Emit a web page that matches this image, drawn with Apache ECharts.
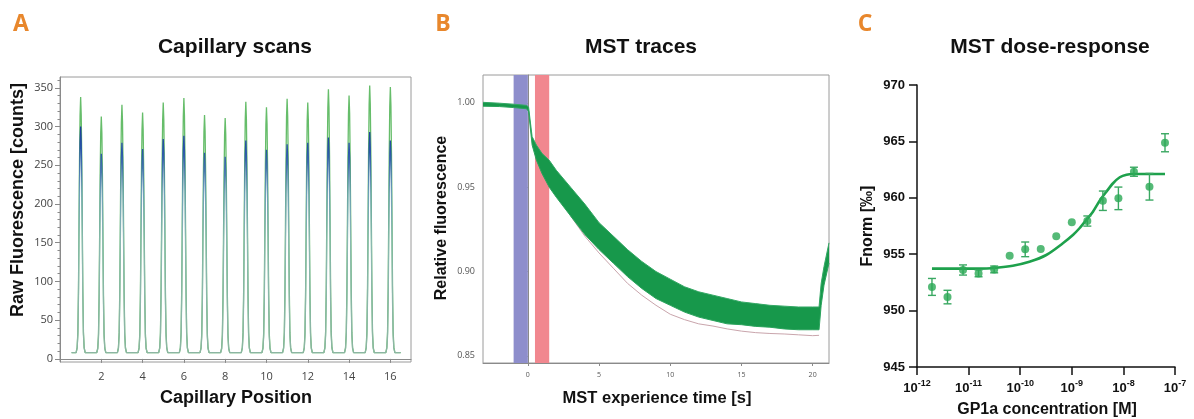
<!DOCTYPE html>
<html>
<head>
<meta charset="utf-8">
<script src="https://cdn.jsdelivr.net/npm/echarts@6/dist/echarts.min.js"></script>
<style>
  html, body { margin: 0; padding: 0; background: #fff; }
  #chart { width: 1194px; height: 419px; }
</style>
</head>
<body>
<div id="chart"></div>
<script>
// ---- A: capillary scans ----
const capillaryPos = [1, 2, 3, 4, 5, 6, 7, 8, 9, 10, 11, 12, 13, 14, 15, 16];
const greenPeaks = [338, 313, 328, 318, 331, 337, 315, 311, 332, 325, 336, 331, 348, 340, 353, 351];
const bluePeaks = [300, 265, 279, 271, 284, 288, 266, 261, 282, 270, 277, 279, 286, 279, 293, 282];
const scanBaseline = 8;
const scanStart = 0.56;
const scanEnd = 16.5;
// peak outline: [offset from capillary centre, share of peak height]
const peakShape = [[-0.22, 0], [-0.17, 0.02], [-0.135, 0.08], [-0.105, 0.25], [-0.08, 0.5], [-0.055, 0.75],
  [-0.028, 0.93], [0, 1], [0.028, 0.93], [0.055, 0.75], [0.08, 0.5], [0.105, 0.25], [0.135, 0.08],
  [0.17, 0.02], [0.22, 0]];
const capTicks = [2, 4, 6, 8, 10, 12, 14, 16];
const countTicks = [0, 50, 100, 150, 200, 250, 300, 350];
const countMinorTicks = [0, 10, 20, 30, 40, 50, 60, 70, 80, 90, 100, 110, 120, 130, 140, 150, 160, 170, 180,
  190, 200, 210, 220, 230, 240, 250, 260, 270, 280, 290, 300, 310, 320, 330, 340, 350, 360];

// ---- B: MST traces ----
const traceTime = [-3.15, -2, -1, -0.1, 0.05, 0.3, 0.6, 1, 1.5, 2, 3, 4, 5, 6, 7, 8, 9, 10, 11, 12, 13, 14,
  15, 16, 17, 18, 19, 20, 20.45, 20.6, 20.8, 21.15];
const traceUpper = [1.0003, 0.9998, 0.9992, 0.9985, 0.9975, 0.980, 0.975, 0.970, 0.966, 0.960, 0.950, 0.940,
  0.929, 0.921, 0.913, 0.906, 0.900, 0.8955, 0.891, 0.888, 0.886, 0.884, 0.882, 0.881, 0.880, 0.8795, 0.879,
  0.879, 0.879, 0.893, 0.903, 0.917];
const traceLower = [0.998, 0.9978, 0.9972, 0.9965, 0.995, 0.975, 0.966, 0.958, 0.950, 0.944, 0.933, 0.922,
  0.913, 0.905, 0.897, 0.890, 0.884, 0.880, 0.876, 0.873, 0.871, 0.869, 0.8685, 0.8675, 0.867, 0.866, 0.8655,
  0.8655, 0.8655, 0.880, 0.892, 0.905];
const outlierTime = [3, 4, 5, 6, 7, 8, 9, 10, 11, 12, 13, 14, 15, 16, 17, 18, 19, 20, 20.45];
const outlierTrace = [0.933, 0.921, 0.911, 0.902, 0.893, 0.886, 0.880, 0.8747, 0.8715, 0.869, 0.8677,
  0.866, 0.8647, 0.8638, 0.8633, 0.863, 0.8625, 0.862, 0.8622];
const coldWindow = [-1, 0];
const hotWindow = [0.5, 1.5];
const timeTicks = [0, 5, 10, 15, 20];
const fluoTicks = [0.85, 0.90, 0.95, 1.00];

// ---- C: dose-response ----
const concentrations = [1.95e-12, 3.9e-12, 7.8e-12, 1.56e-11, 3.13e-11, 6.25e-11, 1.25e-10, 2.5e-10, 5e-10,
  1e-9, 2e-9, 4e-9, 8e-9, 1.6e-8, 3.2e-8, 6.4e-8];
const fnorm = [952.1, 951.2, 953.6, 953.3, 953.65, 954.87, 955.43, 955.46, 956.59, 957.83, 957.94, 959.74,
  959.95, 962.31, 960.98, 964.88];
const fnormErr = [0.75, 0.6, 0.45, 0.3, 0.3, 0, 0.65, 0, 0, 0, 0.45, 0.86, 1.0, 0.4, 1.18, 0.8];
const fitConc = [1.95e-12, 1.62e-11, 3.42e-11, 7.18e-11, 1.51e-10, 3.2e-10, 6.71e-10, 1.05e-9, 1.41e-9,
  1.91e-9, 2.57e-9, 3.47e-9, 4.68e-9, 6.31e-9, 8.51e-9, 1.15e-8, 1.55e-8, 6.4e-8];
const fitFnorm = [953.72, 953.72, 953.8, 953.98, 954.33, 954.93, 955.97, 956.7, 957.3, 958.03, 958.77, 959.74,
  960.54, 961.29, 961.82, 962.05, 962.11, 962.11];

const ARIAL = '"Liberation Sans", Arial, sans-serif';
const SOFT = '"Open Sans", "Noto Sans", sans-serif';

function scanTrace(heights) {
  const pts = [[scanStart, scanBaseline]];
  capillaryPos.forEach((p, i) => {
    peakShape.forEach(([dx, f]) => {
      pts.push([p + dx, scanBaseline + f * (heights[i] - scanBaseline)]);
    });
  });
  pts.push([scanEnd, scanBaseline]);
  return pts;
}

function label(text, x, y, font, rotate, fill) {
  return {
    type: 'text', x: x, y: y, rotation: rotate ? Math.PI / 2 : 0,
    style: {
      text: text, font: font, fill: fill || '#111',
      textAlign: 'center', textVerticalAlign: 'middle', align: 'center', verticalAlign: 'middle'
    }
  };
}

const chart = echarts.init(document.getElementById('chart'), null, { renderer: 'canvas' });

chart.setOption({
  animation: false,
  backgroundColor: '#fff',
  graphic: [
    label('A', 21, 24, 'bold 23px ' + SOFT, false, '#e8872c'),
    label('B', 443, 24, 'bold 23px ' + SOFT, false, '#e8872c'),
    label('C', 865, 24, 'bold 23px ' + SOFT, false, '#e8872c'),
    label('Capillary scans', 235, 47, 'bold 21px ' + ARIAL),
    label('MST traces', 641, 47, 'bold 21px ' + ARIAL),
    label('MST dose-response', 1050, 47, 'bold 21px ' + ARIAL),
    label('Capillary Position', 236, 398, 'bold 18px ' + ARIAL),
    label('Raw Fluorescence [counts]', 18, 200, 'bold 18px ' + ARIAL, true),
    label('MST experience time [s]', 657, 398, 'bold 16.5px ' + ARIAL),
    label('Relative fluorescence', 442, 218, 'bold 16px ' + ARIAL, true),
    label('GP1a concentration [M]', 1047, 410, 'bold 16px ' + ARIAL),
    label('Fnorm [‰]', 868, 226, 'bold 16px ' + ARIAL, true)
  ],
  grid: [
    { left: 60, top: 77, width: 351, height: 285, show: true, borderColor: '#9a9a9a', borderWidth: 1 },
    { left: 483, top: 75, width: 346, height: 288, show: true, borderColor: '#9a9a9a', borderWidth: 1 },
    { left: 917, top: 85, width: 258, height: 282 }
  ],
  xAxis: [
    {
      gridIndex: 0, type: 'value', min: 0, max: 17,
      axisLine: { lineStyle: { color: '#8a8a8a' } },
      axisTick: { customValues: capTicks, length: 4, lineStyle: { color: '#8a8a8a' } },
      axisLabel: { customValues: capTicks, margin: 9, color: '#444', fontSize: 11, fontFamily: SOFT },
      splitLine: { show: false }
    },
    {
      gridIndex: 1, type: 'value', min: -3.15, max: 21.15,
      axisLine: { lineStyle: { color: '#8a8a8a' } },
      axisTick: { customValues: timeTicks, length: 3, lineStyle: { color: '#8a8a8a' } },
      axisLabel: { customValues: timeTicks, margin: 8, color: '#555', fontSize: 7, fontFamily: SOFT },
      splitLine: { show: false }
    },
    {
      gridIndex: 2, type: 'log', logBase: 10, min: 1e-12, max: 1e-7,
      axisLine: { lineStyle: { color: '#111', width: 1.5 } },
      axisTick: { length: 8, lineStyle: { color: '#111', width: 1.5 } },
      minorTick: { show: false },
      splitLine: { show: false },
      axisLabel: {
        margin: 12,
        formatter: v => '{b|10}{s|' + Math.round(Math.log10(v)) + '}',
        rich: {
          b: { fontSize: 13, fontWeight: 'bold', fontFamily: ARIAL, color: '#111', lineHeight: 16, verticalAlign: 'bottom' },
          s: { fontSize: 9, fontWeight: 'bold', fontFamily: ARIAL, color: '#111', lineHeight: 16, verticalAlign: 'top' }
        }
      }
    }
  ],
  yAxis: [
    {
      gridIndex: 0, type: 'value', min: -4, max: 364,
      axisLine: { show: true, lineStyle: { color: '#8a8a8a' } },
      axisTick: { show: true, customValues: countTicks, length: 5, lineStyle: { color: '#8a8a8a' } },
      axisLabel: { customValues: countTicks, margin: 7, color: '#444', fontSize: 11, fontFamily: SOFT },
      splitLine: { show: false }
    },
    {
      gridIndex: 0, type: 'value', min: -4, max: 364, position: 'left',
      axisLine: { show: false },
      axisTick: { show: true, customValues: countMinorTicks, length: 2.5, lineStyle: { color: '#8a8a8a' } },
      axisLabel: { show: false },
      splitLine: { show: false }
    },
    {
      gridIndex: 1, type: 'value', min: 0.8458, max: 1.0165,
      axisLine: { show: true, lineStyle: { color: '#8a8a8a' } },
      axisTick: { show: true, customValues: fluoTicks, length: 4, lineStyle: { color: '#8a8a8a' } },
      axisLabel: {
        customValues: fluoTicks, margin: 8, color: '#555', fontSize: 9, fontFamily: SOFT,
        formatter: v => v.toFixed(2)
      },
      splitLine: { show: false }
    },
    {
      gridIndex: 2, type: 'value', min: 945, max: 970, interval: 5,
      axisLine: { show: true, lineStyle: { color: '#111', width: 1.5 } },
      axisTick: { show: true, length: 8, lineStyle: { color: '#111', width: 1.5 } },
      axisLabel: { margin: 12, color: '#111', fontSize: 13, fontWeight: 'bold', fontFamily: ARIAL },
      splitLine: { show: false }
    }
  ],
  series: [
    // A
    {
      type: 'line', xAxisIndex: 0, yAxisIndex: 0, data: scanTrace(greenPeaks),
      symbol: 'none', lineStyle: { color: '#66bd6a', width: 1.3 }, z: 2
    },
    {
      type: 'line', xAxisIndex: 0, yAxisIndex: 0, data: scanTrace(bluePeaks),
      symbol: 'none', z: 3,
      lineStyle: {
        width: 1.3,
        color: {
          type: 'linear', x: 0, y: 0, x2: 0, y2: 1,
          colorStops: [
            { offset: 0, color: '#1b3a9c' },
            { offset: 0.12, color: '#2a57a8' },
            { offset: 0.3, color: '#6b9fb6' },
            { offset: 0.5, color: '#88b8b0' },
            { offset: 1, color: '#8cb5a2' }
          ]
        }
      }
    },
    // B
    {
      type: 'line', xAxisIndex: 1, yAxisIndex: 2, data: [[coldWindow[0], 0.9], [hotWindow[1], 0.9]],
      symbol: 'none', lineStyle: { opacity: 0 }, silent: true, z: 1,
      markArea: {
        silent: true,
        data: [
          [{ xAxis: coldWindow[0], itemStyle: { color: '#8e8ecc', opacity: 1 } }, { xAxis: coldWindow[1] }],
          [{ xAxis: hotWindow[0], itemStyle: { color: '#f1878f', opacity: 1 } }, { xAxis: hotWindow[1] }]
        ]
      }
    },
    {
      type: 'line', xAxisIndex: 1, yAxisIndex: 2, data: outlierTime.map((t, i) => [t, outlierTrace[i]]),
      symbol: 'none', lineStyle: { color: '#c9a5ac', width: 1 }, z: 2
    },
    {
      type: 'custom', xAxisIndex: 1, yAxisIndex: 2, data: [[5, 0.9]], z: 3, silent: true,
      renderItem: (params, api) => {
        const pts = traceTime.map((t, i) => api.coord([t, traceUpper[i]]));
        for (let i = traceTime.length - 1; i >= 0; i--) pts.push(api.coord([traceTime[i], traceLower[i]]));
        return { type: 'polygon', shape: { points: pts }, style: { fill: '#17984b' } };
      }
    },
    {
      type: 'line', xAxisIndex: 1, yAxisIndex: 2, data: traceTime.map((t, i) => [t, traceUpper[i]]),
      symbol: 'none', lineStyle: { color: '#34a865', width: 1 }, z: 4
    },
    {
      type: 'line', xAxisIndex: 1, yAxisIndex: 2, data: traceTime.map((t, i) => [t, traceLower[i]]),
      symbol: 'none', lineStyle: { color: '#2aa35c', width: 1 }, z: 4
    },
    // C
    {
      type: 'line', xAxisIndex: 2, yAxisIndex: 3, data: fitConc.map((c, i) => [c, fitFnorm[i]]),
      symbol: 'none', smooth: 0.3, lineStyle: { color: '#1ea14c', width: 2.6 }, z: 2
    },
    {
      type: 'custom', xAxisIndex: 2, yAxisIndex: 3, z: 3,
      data: concentrations.map((c, i) => [c, fnorm[i], fnormErr[i]]),
      encode: { x: 0, y: 1 },
      renderItem: (params, api) => {
        const c = api.value(0), v = api.value(1), e = api.value(2);
        if (!e) return null;
        const top = api.coord([c, v + e]);
        const bot = api.coord([c, v - e]);
        const st = { stroke: '#3aa862', lineWidth: 1.4 };
        return {
          type: 'group',
          children: [
            { type: 'line', shape: { x1: top[0], y1: top[1], x2: bot[0], y2: bot[1] }, style: st },
            { type: 'line', shape: { x1: top[0] - 4, y1: top[1], x2: top[0] + 4, y2: top[1] }, style: st },
            { type: 'line', shape: { x1: bot[0] - 4, y1: bot[1], x2: bot[0] + 4, y2: bot[1] }, style: st }
          ]
        };
      }
    },
    {
      type: 'scatter', xAxisIndex: 2, yAxisIndex: 3, z: 4,
      data: concentrations.map((c, i) => [c, fnorm[i]]),
      symbol: 'circle', symbolSize: 8, itemStyle: { color: '#2aa955' }
    }
  ]
});
</script>
</body>
</html>
